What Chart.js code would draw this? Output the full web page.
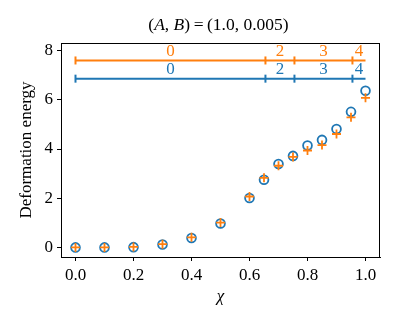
<!DOCTYPE html>
<html>
<head>
<meta charset="utf-8">
<script src="https://cdn.jsdelivr.net/npm/chart.js@4"></script>
<style>
html,body{margin:0;padding:0;background:#fff;}
canvas{display:block;}
</style>
</head>
<body>
<canvas id="c" width="398" height="326"></canvas>
<script>
// ---- data ----
const chi = [0, 0.1, 0.2, 0.3, 0.4, 0.5, 0.6, 0.65, 0.7, 0.75, 0.8, 0.85, 0.9, 0.95, 1.0];
const energyCircle = [0, 0, 0.01, 0.12, 0.38, 0.97, 2.01, 2.75, 3.39, 3.72, 4.14, 4.37, 4.81, 5.51, 6.37];
const energyPlus   = [0, 0, 0.02, 0.13, 0.41, 1.01, 2.07, 2.83, 3.32, 3.68, 3.94, 4.16, 4.61, 5.29, 6.08];
const intervalBounds = [0, 0.655, 0.755, 0.955, 1.0];
const intervalLabels = ['0', '2', '3', '4'];
const levelOrange = 7.6;
const levelBlue = 6.86;
const xTicks = [0, 0.2, 0.4, 0.6, 0.8, 1.0];
const yTicks = [0, 2, 4, 6, 8];
const titleParts = [['(', false], ['A', true], [', ', false], ['B', true], [')\u2009=\u2009(1.0, 0.005)', false]];
const xTitle = 'χ';
const yTitle = 'Deformation energy';

const BLUE = '#1f77b4', ORANGE = '#ff7f0e';
const FONT = "'Liberation Serif', 'Times New Roman', serif";
const FS = 17;

function pts(xs, ys) { return xs.map((x, i) => ({x: x, y: ys[i]})); }
function levelPts(level) { return intervalBounds.map(x => ({x: x, y: level})); }
const tickRadii = intervalBounds.map((b, i) => i === intervalBounds.length - 1 ? 0 : 4);

const textPlugin = {
  id: 'texts',
  afterDraw(chart) {
    const ctx = chart.ctx, a = chart.chartArea;
    const xs = chart.scales.x, ys = chart.scales.y;
    ctx.save();
    // frame
    ctx.strokeStyle = '#000'; ctx.lineWidth = 1;
    ctx.strokeRect(a.left + 0.5, a.top + 0.5, a.right - a.left - 1, a.bottom - a.top);
    // interval labels
    ctx.font = FS + 'px ' + FONT;
    ctx.textAlign = 'center'; ctx.textBaseline = 'middle';
    [[levelOrange, ORANGE], [levelBlue, BLUE]].forEach(([lv, col]) => {
      ctx.fillStyle = col;
      for (let i = 0; i < intervalLabels.length; i++) {
        const mid = (intervalBounds[i] + intervalBounds[i + 1]) / 2;
        ctx.fillText(intervalLabels[i], xs.getPixelForValue(mid), ys.getPixelForValue(lv) - 9);
      }
    });
    ctx.fillStyle = '#000';
    // title with mixed italic
    const TF = 17.5;
    let total = 0;
    const widths = titleParts.map(([t, it]) => {
      ctx.font = (it ? 'italic ' : '') + TF + 'px ' + FONT;
      const w = ctx.measureText(t).width; total += w; return w;
    });
    let x = 218.5 - total / 2;
    ctx.textAlign = 'left';
    titleParts.forEach(([t, it], i) => {
      ctx.font = (it ? 'italic ' : '') + TF + 'px ' + FONT;
      ctx.fillText(t, x, 25.5); x += widths[i];
    });
    // x title
    ctx.textAlign = 'center';
    ctx.font = 'italic ' + FS + 'px ' + FONT;
    ctx.fillText(xTitle, (a.left + a.right) / 2, 297);
    // y title
    ctx.font = FS + 'px ' + FONT;
    ctx.translate(27, (a.top + a.bottom) / 2);
    ctx.rotate(-Math.PI / 2);
    ctx.fillText(yTitle, 0, 0);
    ctx.restore();
  }
};

new Chart(document.getElementById('c'), {
  type: 'scatter',
  data: {
    datasets: [
      { label: 'plus', data: pts(chi, energyPlus), pointStyle: 'cross', pointRadius: 4.5, pointHoverRadius: 4.5,
        borderColor: ORANGE, backgroundColor: ORANGE, pointBorderWidth: 1.8, order: 0 },
      { label: 'circle', data: pts(chi, energyCircle), pointStyle: 'circle', pointRadius: 4.4, pointHoverRadius: 4.4,
        borderColor: BLUE, backgroundColor: 'rgba(0,0,0,0)', pointBorderWidth: 1.8, order: 1 },
      { type: 'line', label: 'orange intervals', data: levelPts(levelOrange), showLine: true, borderColor: ORANGE,
        backgroundColor: ORANGE, borderWidth: 2, pointStyle: 'line', rotation: 90, pointRadius: tickRadii,
        pointBorderWidth: 2, pointBorderColor: ORANGE, fill: false, order: 2 },
      { type: 'line', label: 'blue intervals', data: levelPts(levelBlue), showLine: true, borderColor: BLUE,
        backgroundColor: BLUE, borderWidth: 2, pointStyle: 'line', rotation: 90, pointRadius: tickRadii,
        pointBorderWidth: 2, pointBorderColor: BLUE, fill: false, order: 3 }
    ]
  },
  options: {
    responsive: false,
    animation: false,
    events: [],
    layout: { padding: { left: 0, right: 18, top: 43, bottom: 0 } },
    plugins: { legend: { display: false }, tooltip: { enabled: false }, title: { display: false } },
    scales: {
      x: {
        type: 'linear', min: -0.05, max: 1.05,
        afterBuildTicks: s => { s.ticks = xTicks.map(v => ({value: v})); },
        afterFit: s => { s.height = 69; },
        ticks: { color: '#000', font: { family: FONT, size: FS }, padding: 4,
                 callback: v => v.toFixed(1), maxRotation: 0, autoSkip: false },
        grid: { drawOnChartArea: false, drawTicks: true, tickLength: 4, color: '#000', lineWidth: 1 },
        border: { display: true, color: '#000', width: 1 }
      },
      y: {
        type: 'linear', min: -0.39, max: 8.31,
        afterBuildTicks: s => { s.ticks = yTicks.map(v => ({value: v})); },
        afterFit: s => { s.width = 61; },
        ticks: { color: '#000', font: { family: FONT, size: FS }, padding: 4,
                 callback: v => String(v), autoSkip: false },
        grid: { drawOnChartArea: false, drawTicks: true, tickLength: 4, color: '#000', lineWidth: 1 },
        border: { display: true, color: '#000', width: 1 }
      }
    }
  },
  plugins: [textPlugin]
});
</script>
</body>
</html>
